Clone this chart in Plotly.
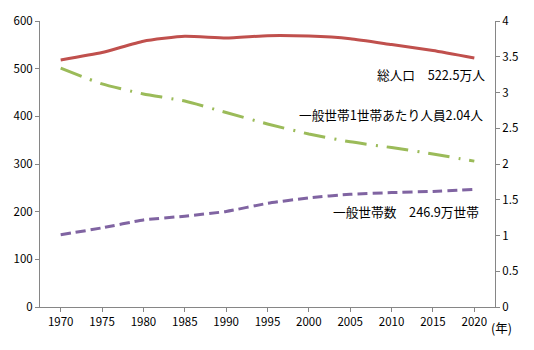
import plotly.graph_objects as go

years = [1970, 1975, 1980, 1985, 1990, 1995, 2000, 2005, 2010, 2015, 2020]
total_pop = [518.4, 533.8, 557.6, 567.9, 564.4, 569.2, 568.3, 562.8, 550.6, 538.2, 522.5]
households = [151.5, 166.0, 182.6, 190.5, 200.5, 217.5, 229.0, 236.5, 240.0, 242.5, 246.9]
persons_per_hh = [3.34, 3.12, 2.98, 2.88, 2.72, 2.56, 2.42, 2.31, 2.23, 2.14, 2.04]

FONT = "Noto Sans CJK JP"
AX = "#868686"

fig = go.Figure()
fig.add_trace(go.Scatter(x=years, y=total_pop, mode="lines",
                         line=dict(color="#C0504D", width=3, shape="spline", smoothing=0.5),
                         name="総人口"))
fig.add_trace(go.Scatter(x=years, y=households, mode="lines",
                         line=dict(color="#8064A2", width=3, dash="10px,5px",
                                   shape="spline", smoothing=0.5),
                         name="一般世帯数"))
fig.add_trace(go.Scatter(x=years, y=persons_per_hh, mode="lines", yaxis="y2",
                         line=dict(color="#9BBB59", width=3, dash="22px,9px,2px,9px",
                                   shape="spline", smoothing=0.5),
                         name="一般世帯1世帯あたり人員"))

fig.update_layout(
    width=534, height=350,
    margin=dict(l=40, r=39, t=15, b=43),
    paper_bgcolor="white", plot_bgcolor="white",
    showlegend=False,
    font=dict(family=FONT, size=11.5, color="#000000"),
    xaxis=dict(range=[1967.5, 2022.5], tickvals=years, ticktext=[str(y) for y in years],
               showgrid=False, zeroline=False, showline=True, linecolor=AX, linewidth=1,
               ticks="outside", ticklen=4, tickcolor=AX),
    yaxis=dict(range=[0, 600], dtick=100, showgrid=False, zeroline=False,
               showline=True, linecolor=AX, linewidth=1,
               ticks="outside", ticklen=4, tickcolor=AX),
    yaxis2=dict(range=[0, 4], dtick=0.5, overlaying="y", side="right",
                showgrid=False, zeroline=False, showline=True, linecolor=AX, linewidth=1,
                ticks="outside", ticklen=4, tickcolor=AX),
)

anns = [
    ("総人口　522.5万人", 487, 70),
    ("一般世帯1世帯あたり人員2.04人", 485, 110),
    ("一般世帯数　246.9万世帯", 481, 210),
]
pw, ph = 534 - 40 - 39, 350 - 15 - 43
for t, px, py in anns:
    fig.add_annotation(text=t, x=(px - 40) / pw, y=(307 - py) / ph, xref="paper", yref="paper",
                       showarrow=False, xanchor="right", yanchor="middle", font=dict(size=12.7))
fig.add_annotation(text="(年)", x=(489 - 40) / pw, y=(307 - 328) / ph, xref="paper", yref="paper",
                   showarrow=False, xanchor="left", yanchor="middle", font=dict(size=12.5))

fig.write_html("out.html")
